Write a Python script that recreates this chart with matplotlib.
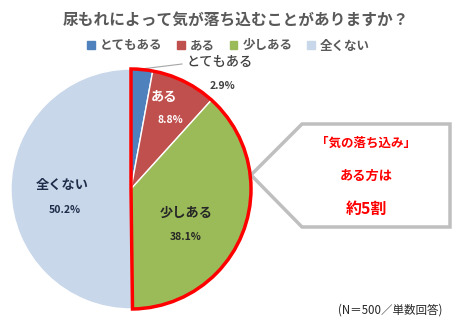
import numpy as np
import matplotlib.pyplot as plt
from matplotlib.patches import Wedge, Polygon, Patch

plt.rcParams['font.family'] = ['Noto Sans CJK JP', 'DejaVu Sans']

# data
labels = ['とてもある', 'ある', '少しある', '全くない']
values = [2.9, 8.8, 38.1, 50.2]
colors = ['#4F81BD', '#C0504D', '#9BBB59', '#C9D7EA']
title = '尿もれによって気が落ち込むことがありますか？'
note = '(N＝500／単数回答)'
callout = ['「気の落ち込み」', 'ある方は', '約5割']

W, H = 457, 334
fig = plt.figure(figsize=(W / 100, H / 100), dpi=100)
ax = fig.add_axes([0, 0, 1, 1])

cx, cy, r = 131, H - 189, 120
wedges, _ = ax.pie(values, colors=colors, startangle=90, counterclock=False,
                   center=(cx, cy), radius=r,
                   wedgeprops=dict(edgecolor='white', linewidth=1))

# red outline around the "yes" slices
yes = sum(values[:3]) / 100
ax.add_patch(Wedge((cx, cy), r, 90 - 360 * yes, 90, fill=False,
                   edgecolor='#FF0000', linewidth=2.5, zorder=5))

# slice labels
ax.plot([133, 182], [H - 70, H - 64], color='#A6A6A6', lw=0.8)
ax.text(220, H - 62, labels[0], ha='center', va='center', fontsize=9.5,
        color='#404040', fontweight='medium')
ax.text(222, H - 86, f'{values[0]}%', ha='center', va='center', fontsize=7.5,
        color='#404040', fontweight='bold')
ax.text(164, H - 97, labels[1], ha='center', va='center', fontsize=9.5,
        color='white', fontweight='bold')
ax.text(170, H - 120, f'{values[1]}%', ha='center', va='center', fontsize=7.5,
        color='white', fontweight='bold')
ax.text(186, H - 213, labels[2], ha='center', va='center', fontsize=9.5,
        color='#262626', fontweight='bold')
ax.text(186, H - 237, f'{values[2]}%', ha='center', va='center', fontsize=7.5,
        color='#262626', fontweight='bold')
ax.text(62, H - 185, labels[3], ha='center', va='center', fontsize=9.5,
        color='#1F2D4A', fontweight='bold')
ax.text(65, H - 210, f'{values[3]}%', ha='center', va='center', fontsize=7.5,
        color='#1F2D4A', fontweight='bold')

# callout box
box = [(251, H - 175), (302, H - 124), (450, H - 124), (450, H - 227), (302, H - 227)]
ax.add_patch(Polygon(box, closed=True, facecolor='white', edgecolor='#BFBFBF',
                     linewidth=2.5, zorder=4))
ax.text(366, H - 143, callout[0], ha='center', va='center', fontsize=9,
        color='#FF0000', fontweight='bold', zorder=6)
ax.text(366, H - 176, callout[1], ha='center', va='center', fontsize=9.5,
        color='#FF0000', fontweight='bold', zorder=6)
ax.text(366, H - 209, callout[2], ha='center', va='center', fontsize=11.5,
        color='#FF0000', fontweight='bold', zorder=6)

ax.text(236, H - 20, title, ha='center', va='center', fontsize=11.3,
        color='#595959', fontweight='bold')
ax.text(390, H - 310, note, ha='center', va='center', fontsize=8.3,
        color='#262626')

handles = [Patch(color=c) for c in colors]
leg = ax.legend(handles, labels, loc='center', bbox_to_anchor=(0.5, 1 - 46 / H),
                ncol=4, frameon=False, fontsize=9, handlelength=0.6,
                handleheight=0.6, handletextpad=0.4, columnspacing=1.2,
                labelcolor='#595959', prop={'weight': 'bold', 'size': 9})

ax.set_xlim(0, W)
ax.set_ylim(0, H)
ax.axis('off')
fig.savefig('out.png', dpi=100)
